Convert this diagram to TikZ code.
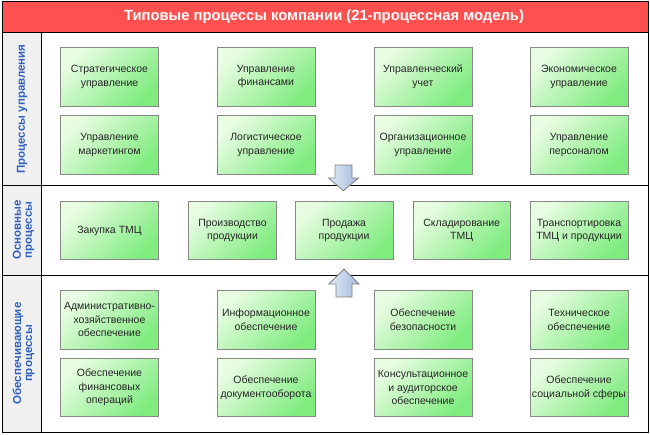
\documentclass[tikz,border=0pt]{standalone}
\usepackage{fontspec}
\setmainfont{Liberation Sans}
\definecolor{titlered}{RGB}{255,80,80}
\definecolor{lblblue}{RGB}{48,96,192}
\definecolor{colgray}{RGB}{240,240,240}
\definecolor{gA}{RGB}{232,252,226}
\definecolor{gB}{RGB}{128,236,128}
\definecolor{boxborder}{RGB}{135,135,135}
\definecolor{arA}{RGB}{228,236,247}
\definecolor{arB}{RGB}{160,184,218}
\definecolor{arborder}{RGB}{128,128,128}
\begin{document}
\begin{tikzpicture}[x=1pt,y=-1pt,
  proc/.style={draw=boxborder, line width=0.8pt, top color=gA, bottom color=gB,
    shading angle=45, align=center, inner sep=0pt, text=black!85,
    font=\fontsize{10.5}{13.5}\selectfont, minimum width=98, minimum height=58.5},
  lane/.style={rotate=90, align=center, text=lblblue, inner sep=0pt,
    font=\fontsize{11.5}{11}\selectfont\bfseries},
  frame/.style={draw=black, line width=0.8pt},
  blockarrow/.style={draw=arborder, line width=0.8pt, left color=arA, right color=arB}]
\useasboundingbox (0,0) rectangle (650,434);
% frame and lanes
\draw[frame, fill=colgray] (2,32.5) rectangle (41,432);
\draw[frame] (2,185) -- (648,185);
\draw[frame] (2,275) -- (648,275);
\draw[frame] (2,1) rectangle (648,432);
\draw[frame, fill=titlered] (2,1) rectangle (648,32.5);
\node[text=white, font=\fontsize{14.8}{18}\selectfont\bfseries] (title) at (324,17)
  {Типовые процессы компании (21-процессная модель)};
\node[lane] (l1) at (22,109) {Процессы управления};
\node[lane] (l2) at (23.5,230) {Основные\\процессы};
\node[lane] (l3) at (23.5,353.5) {Обеспечивающие\\процессы};
% management
\node[proc] (m1) at (109.5,76.7) {Стратегическое\\управление};
\node[proc] (m2) at (266,76.7) {Управление\\финансами};
\node[proc] (m3) at (423,76.7) {Управленческий\\учет};
\node[proc] (m4) at (579,76.7) {Экономическое\\управление};
\node[proc] (m5) at (109.5,145) {Управление\\маркетингом};
\node[proc] (m6) at (266,145) {Логистическое\\управление};
\node[proc] (m7) at (423,145) {Организационное\\управление};
\node[proc] (m8) at (579,145) {Управление\\персоналом};
% main
\node[proc] (o1) at (109.5,230.5) {Закупка ТМЦ};
\node[proc, minimum width=88.4] (o2) at (232.5,230.5) {Производство\\продукции};
\node[proc] (o3) at (344,230.5) {Продажа\\продукции};
\node[proc, minimum width=96.7] (o4) at (461.7,230.5) {Складирование\\ТМЦ};
\node[proc] (o5) at (579,230.5) {Транспортировка\\ТМЦ и продукции};
% support
\node[proc] (s1) at (109.5,319.7) {Административно-\\хозяйственное\\обеспечение};
\node[proc] (s2) at (266,319.7) {Информационное\\обеспечение};
\node[proc] (s3) at (423,319.7) {Обеспечение\\безопасности};
\node[proc] (s4) at (579,319.7) {Техническое\\обеспечение};
\node[proc] (s5) at (109.5,387.5) {Обеспечение\\финансовых\\операций};
\node[proc] (s6) at (266,387.5) {Обеспечение\\документооборота};
\node[proc] (s7) at (423,387.5) {Консультационное\\и аудиторское\\обеспечение};
\node[proc] (s8) at (579,387.5) {Обеспечение\\социальной сферы};
% block arrows
\draw[blockarrow] (335,165) -- (352,165) -- (352,178) -- (358.5,178) -- (343.5,190.7)
  -- (328.5,178) -- (335,178) -- cycle;
\draw[blockarrow] (336,297) -- (352,297) -- (352,284) -- (359,284) -- (344,269)
  -- (329,284) -- (336,284) -- cycle;
\end{tikzpicture}
\end{document}
